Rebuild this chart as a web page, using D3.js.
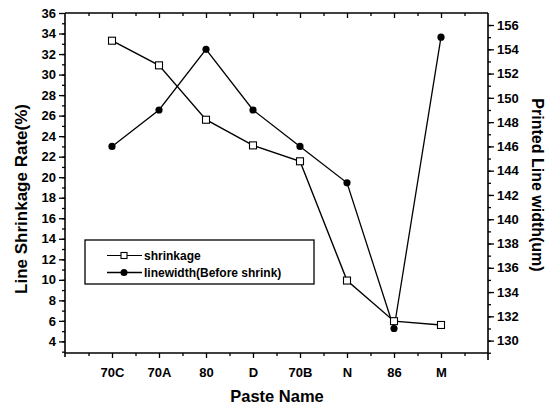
<!DOCTYPE html>
<html>
<head>
<meta charset="utf-8">
<script src="https://d3js.org/d3.v7.min.js"></script>
<style>
  body { margin: 0; background: #fff; }
  text { font-family: "Liberation Sans", Arial, sans-serif; font-weight: bold; fill: #000; }
</style>
</head>
<body>
<script>
var pastes = ["70C", "70A", "80", "D", "70B", "N", "86", "M"];
var shrinkage = [33.3, 30.9, 25.6, 23.1, 21.55, 9.93, 5.97, 5.6];
var linewidth = [146, 149, 154, 149, 146, 143, 131, 155];
var leftTicks = [4, 6, 8, 10, 12, 14, 16, 18, 20, 22, 24, 26, 28, 30, 32, 34, 36];
var rightTicks = [130, 132, 134, 136, 138, 140, 142, 144, 146, 148, 150, 152, 154, 156];

var W = 557, H = 407;
var plotL = 65, plotR = 488, plotT = 13, plotB = 353;

var svg = d3.select("body").append("svg").attr("width", W).attr("height", H);

var x = d3.scaleLinear().domain([0, pastes.length + 1]).range([plotL, plotR]);
var yL = d3.scaleLinear().domain([2.87, 36]).range([plotB, plotT]);
var yR = d3.scaleLinear().domain([128.98, 156.99]).range([plotB, plotT]);

function styleAxis(g) {
  g.select(".domain").remove();
  g.selectAll("line").attr("stroke", "#000").attr("stroke-width", 1.3);
  g.selectAll("text").style("font-size", "13px");
}

// minor ticks
var minorL = d3.range(3, 36, 1);
var minorR = d3.range(129, 157, 1);
var minorX = d3.range(0.5, pastes.length + 1, 1);

svg.append("g").attr("transform", "translate(" + plotL + ",0)")
  .call(d3.axisLeft(yL).tickValues(minorL).tickSize(3).tickFormat(""))
  .call(styleAxis);
svg.append("g").attr("transform", "translate(" + plotL + ",0)")
  .call(d3.axisLeft(yL).tickValues(leftTicks).tickSize(6).tickPadding(3))
  .call(styleAxis);

svg.append("g").attr("transform", "translate(" + plotR + ",0)")
  .call(d3.axisRight(yR).tickValues(minorR).tickSize(3).tickFormat(""))
  .call(styleAxis);
svg.append("g").attr("transform", "translate(" + plotR + ",0)")
  .call(d3.axisRight(yR).tickValues(rightTicks).tickSize(6).tickPadding(3))
  .call(styleAxis);

svg.append("g").attr("transform", "translate(0," + plotB + ")")
  .call(d3.axisBottom(x).tickValues(minorX).tickSize(3).tickFormat(""))
  .call(styleAxis);
svg.append("g").attr("transform", "translate(0," + plotB + ")")
  .call(d3.axisBottom(x).tickValues(d3.range(1, pastes.length + 1))
    .tickSize(5).tickPadding(10).tickFormat(function(d) { return pastes[d - 1]; }))
  .call(styleAxis);

svg.append("g").attr("transform", "translate(0," + plotT + ")")
  .call(d3.axisBottom(x).tickValues(minorX).tickSize(3).tickFormat(""))
  .call(styleAxis);
svg.append("g").attr("transform", "translate(0," + plotT + ")")
  .call(d3.axisBottom(x).tickValues(d3.range(1, pastes.length + 1)).tickSize(5).tickFormat(""))
  .call(styleAxis);

// frame
svg.append("line").attr("x1", plotL).attr("x2", plotL).attr("y1", plotT).attr("y2", plotB + 4)
  .attr("stroke", "#000").attr("stroke-width", 1.6);
svg.append("line").attr("x1", plotR).attr("x2", plotR).attr("y1", plotT).attr("y2", plotB + 7)
  .attr("stroke", "#000").attr("stroke-width", 1.6);
svg.append("line").attr("x1", plotL).attr("x2", plotR).attr("y1", plotT).attr("y2", plotT)
  .attr("stroke", "#000").attr("stroke-width", 1.6);
svg.append("line").attr("x1", plotL).attr("x2", plotR).attr("y1", plotB).attr("y2", plotB)
  .attr("stroke", "#000").attr("stroke-width", 1.6);

// series
var lineL = d3.line().x(function(d, i) { return x(i + 1); }).y(function(d) { return yL(d); });
var lineR = d3.line().x(function(d, i) { return x(i + 1); }).y(function(d) { return yR(d); });

svg.append("path").datum(shrinkage).attr("d", lineL)
  .attr("fill", "none").attr("stroke", "#000").attr("stroke-width", 1.4);
svg.append("path").datum(linewidth).attr("d", lineR)
  .attr("fill", "none").attr("stroke", "#000").attr("stroke-width", 1.3);

svg.selectAll(".dot").data(linewidth).enter().append("circle")
  .attr("cx", function(d, i) { return x(i + 1); })
  .attr("cy", function(d) { return yR(d); })
  .attr("r", 3.6).attr("fill", "#000");

svg.selectAll(".sq").data(shrinkage).enter().append("rect")
  .attr("x", function(d, i) { return x(i + 1) - 3.5; })
  .attr("y", function(d) { return yL(d) - 3.5; })
  .attr("width", 7).attr("height", 7)
  .attr("fill", "#fff").attr("stroke", "#000").attr("stroke-width", 1.1);

// legend
var lg = svg.append("g");
lg.append("rect").attr("x", 85).attr("y", 240).attr("width", 229).attr("height", 44)
  .attr("fill", "#fff").attr("stroke", "#000").attr("stroke-width", 1.3);
lg.append("line").attr("x1", 107).attr("x2", 142).attr("y1", 255.5).attr("y2", 255.5)
  .attr("stroke", "#000").attr("stroke-width", 1.1);
lg.append("rect").attr("x", 121).attr("y", 252.5).attr("width", 6).attr("height", 6)
  .attr("fill", "#fff").attr("stroke", "#000").attr("stroke-width", 1.1);
lg.append("text").attr("x", 144).attr("y", 260).style("font-size", "12px").text("shrinkage");
lg.append("line").attr("x1", 107).attr("x2", 142).attr("y1", 272.5).attr("y2", 272.5)
  .attr("stroke", "#000").attr("stroke-width", 1.5);
lg.append("circle").attr("cx", 124).attr("cy", 272.5).attr("r", 3.5).attr("fill", "#000");
lg.append("text").attr("x", 144).attr("y", 277).style("font-size", "12px").text("linewidth(Before shrink)");

// axis titles
svg.append("text").attr("transform", "translate(27,199) rotate(-90)")
  .attr("text-anchor", "middle").style("font-size", "17px").text("Line Shrinkage Rate(%)");
svg.append("text").attr("transform", "translate(532,185) rotate(90)")
  .attr("text-anchor", "middle").style("font-size", "16px").text("Printed Line width(um)");
svg.append("text").attr("x", 277).attr("y", 402)
  .attr("text-anchor", "middle").style("font-size", "16.5px").text("Paste Name");
</script>
</body>
</html>
